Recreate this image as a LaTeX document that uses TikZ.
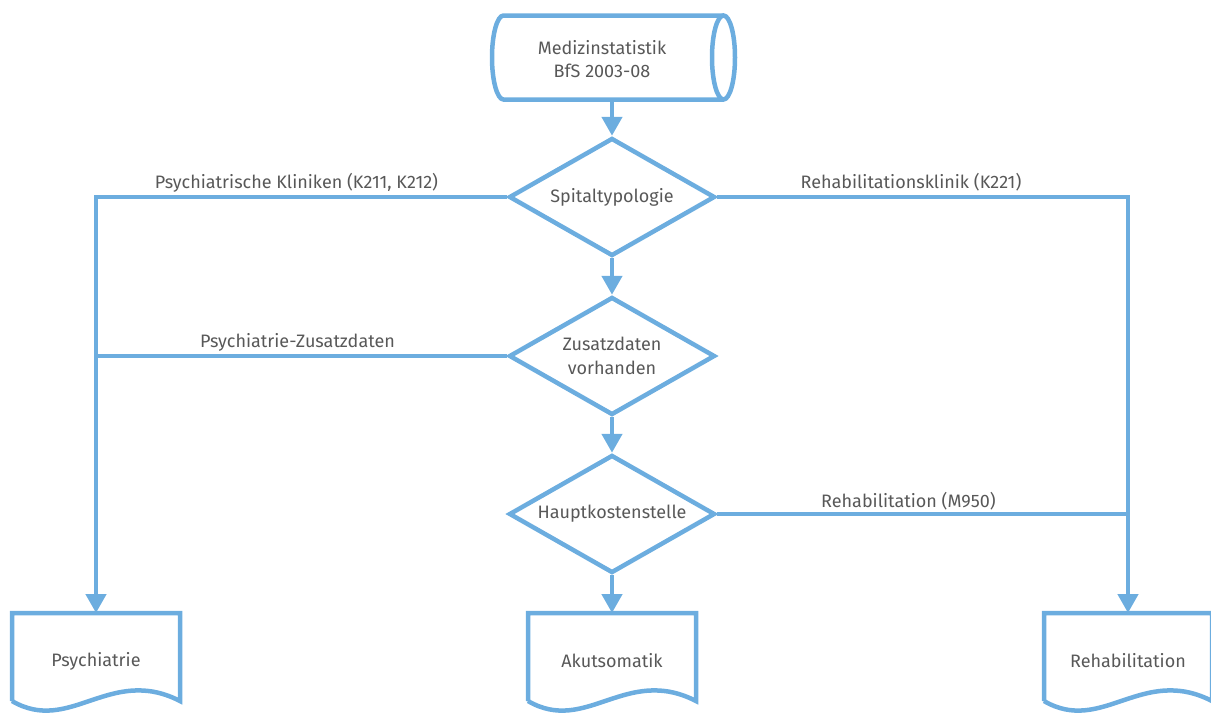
\documentclass[tikz,border=0pt]{standalone}
\usepackage{fontspec}
\setmainfont{Fira Sans}
\usetikzlibrary{shapes.geometric,arrows.meta,calc}
\definecolor{fb}{RGB}{108,173,223}
\definecolor{ft}{RGB}{88,88,88}
\newcommand\docout[1]{%
  \draw[ln] ($(#1.north west)+(0,88)$) -- (#1.north west) -- (#1.north east) -- ($(#1.north east)+(0,88)$)
    .. controls ($(#1.north east)+(-70,52)$) and ($(#1.north west)+(58,122)$) .. ($(#1.north west)+(0,88)$);}
\begin{document}
\begin{tikzpicture}[x=1pt,y=-1pt,
  ln/.style={draw=fb,line width=4.5pt},
  arr/.style={ln,-{Triangle[width=20pt,length=19pt]}},
  txt/.style={text=ft,font=\fontsize{18}{23.5}\selectfont},
  dia/.style={diamond,aspect=1.75,ln,txt,minimum width=206pt,minimum height=118pt,inner sep=0pt,align=center},
  doc/.style={rectangle,txt,minimum width=168pt,minimum height=96pt,inner sep=0pt,outer sep=0pt},
  lab/.style={txt,anchor=base,inner sep=0pt}]
\useasboundingbox (0,0) rectangle (1211,713);

% source cylinder
\node[rectangle,minimum width=244pt,minimum height=84pt,inner sep=0pt,outer sep=0pt] (src) at (612,57.5) {};
\draw[ln] (723.5,15.5) -- (503.5,15.5) arc[start angle=270,end angle=90,x radius=11.5,y radius=42] -- (723.5,99.5);
\draw[ln] (723.5,57.5) ellipse[x radius=11.5,y radius=42];
\node[txt,align=center] (srct) at (602,59) {Medizinstatistik\\BfS 2003-08};

% decisions
\node[dia] (d1) at (612,197) {Spitaltypologie};
\node[dia] (d2) at (612,356) {Zusatzdaten\\vorhanden};
\node[dia] (d3) at (612,514) {Hauptkostenstelle};

% documents
\node[doc] (psy) at (96,661) {Psychiatrie};
\node[doc] (akut) at (612,661) {Akutsomatik};
\node[doc] (reha) at (1128,661) {Rehabilitation};
\docout{psy}
\docout{akut}
\docout{reha}

% connectors
\draw[arr] (src.south) -- (d1.north);
\draw[arr] (d1.south) -- (d2.north);
\draw[arr] (d2.south) -- (d3.north);
\draw[arr] (d3.south) -- (akut.north);
\draw[arr] (d1.west) -| (psy.north);
\draw[arr] (d1.east) -| (reha.north);
\draw[ln] (d2.west) -- (d2.west -| psy.north);
\draw[ln] (d3.east) -- (d3.east -| reha.north);

% labels
\node[lab] (l1) at (296.5,188) {Psychiatrische Kliniken (K211, K212)};
\node[lab] (l2) at (911,188) {Rehabilitationsklinik (K221)};
\node[lab] (l3) at (297.5,347) {Psychiatrie-Zusatzdaten};
\node[lab] (l4) at (908.5,507) {Rehabilitation (M950)};
\end{tikzpicture}
\end{document}
